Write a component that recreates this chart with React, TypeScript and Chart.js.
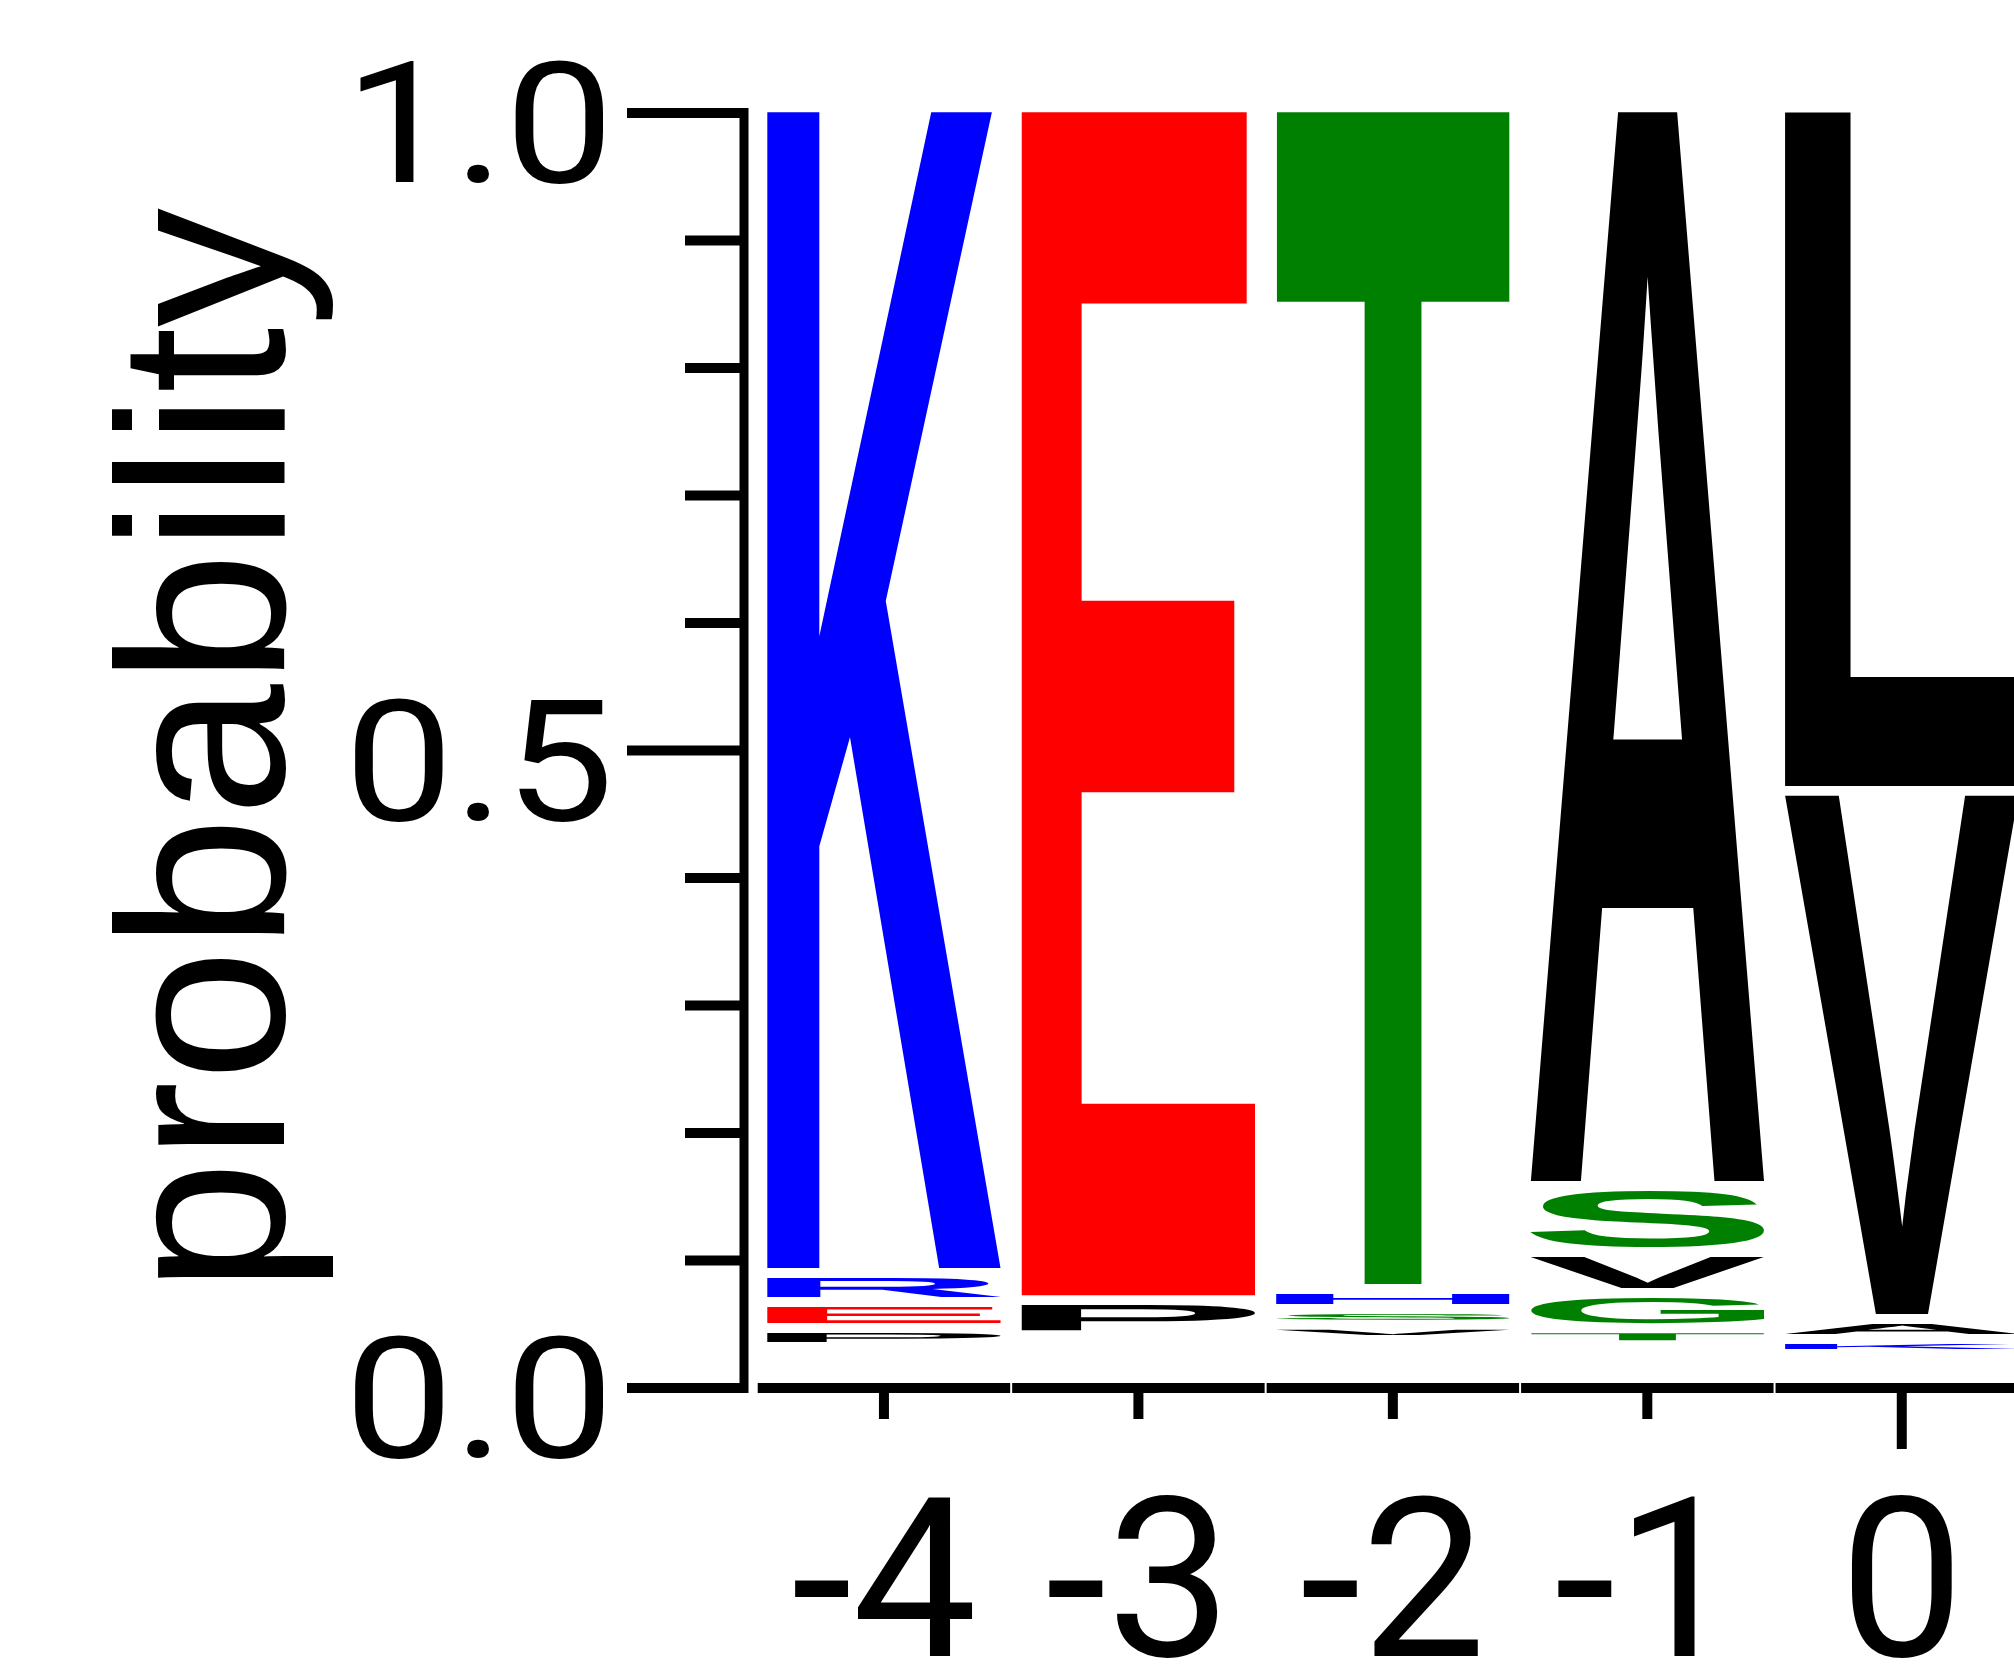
import React, { useEffect, useRef } from "react";
import { Chart, registerables } from "chart.js";

Chart.register(...registerables);

const FONT = "'Liberation Sans', Arial, Helvetica, sans-serif";
const TICK_FONT = "Roboto, 'Liberation Sans', Arial, sans-serif";

// Sequence positions relative to the site
const positions = [-4, -3, -2, -1, 0];

// Residues per position, listed bottom -> top, with their probabilities
const residuesM4 = ["Q", "S", "D", "P", "E", "R", "K"];
const probsM4 = [0.0093, 0.0095, 0.0095, 0.0149, 0.0204, 0.0227, 0.9137];

const residuesM3 = ["K", "A", "S", "D", "P", "E"];
const probsM3 = [0.0092, 0.0094, 0.0094, 0.0095, 0.0275, 0.935];

const residuesM2 = ["N", "A", "Q", "I", "V", "S", "H", "T"];
const probsM2 = [0.0083, 0.0084, 0.0085, 0.0085, 0.012, 0.0123, 0.0157, 0.9263];

const residuesM1 = ["C", "N", "E", "T", "G", "V", "S", "A"];
const probsM1 = [0.0098, 0.0099, 0.01, 0.0133, 0.0275, 0.0322, 0.0518, 0.8455];

const residues0 = ["S", "I", "T", "K", "A", "V", "L"];
const probs0 = [0.0075, 0.0076, 0.0076, 0.0118, 0.0157, 0.4141, 0.5357];

const columnResidues = [residuesM4, residuesM3, residuesM2, residuesM1, residues0];
const columnProbs = [probsM4, probsM3, probsM2, probsM1, probs0];

// Y axis ticks that carry a label
const yMajorTicks = [0, 0.5, 1.0];

// Chemistry colour scheme
const RESIDUE_COLOURS: Record<string, string> = {
  K: "#0000ff", R: "#0000ff", H: "#0000ff",
  D: "#ff0000", E: "#ff0000",
  S: "#008000", T: "#008000", G: "#008000", Y: "#008000", C: "#008000",
  N: "#800080", Q: "#800080",
  A: "#000000", V: "#000000", L: "#000000", I: "#000000", P: "#000000",
  F: "#000000", M: "#000000", W: "#000000",
};

const GLYPH_FONT = `bold 400px ${FONT}`;
const GLYPH_GAP = 10; // blank space under each letter, px
const MIN_GLYPH = 3; // letters thinner than this are not drawn, px

const X_LABEL_SIZE = 222;
const X_LABEL_BASELINE = 268; // below the x axis, px

const Y_LABEL_SIZE = 169;
const Y_LABEL_WIDEN = 1.15; // probability numbers are set wide
const Y_LABEL_GAP = 130; // from the vertical axis to the label's right edge, px
const Y_LABEL_DROP = 69; // baseline below the tick, px

const isMajorY = (v: number) => yMajorTicks.some((m) => Math.abs(m - v) < 1e-6);

// Exact ink box of a glyph, found by rendering it once off-screen
type Ink = { left: number; top: number; right: number; bottom: number };
const inkCache: Record<string, Ink> = {};
function inkBox(letter: string): Ink {
  if (inkCache[letter]) return inkCache[letter];
  const size = 800;
  const ox = 200;
  const oy = 600;
  const c = document.createElement("canvas");
  c.width = size;
  c.height = size;
  const g = c.getContext("2d", { willReadFrequently: true }) as CanvasRenderingContext2D;
  g.font = GLYPH_FONT;
  g.textAlign = "left";
  g.textBaseline = "alphabetic";
  g.fillStyle = "#000";
  g.fillText(letter, ox, oy);
  const px = g.getImageData(0, 0, size, size).data;
  let minX = size, minY = size, maxX = -1, maxY = -1;
  for (let yy = 0; yy < size; yy++) {
    for (let xx = 0; xx < size; xx++) {
      if (px[(yy * size + xx) * 4 + 3] > 100) {
        if (xx < minX) minX = xx;
        if (xx > maxX) maxX = xx;
        if (yy < minY) minY = yy;
        if (yy > maxY) maxY = yy;
      }
    }
  }
  const box = { left: minX - ox, right: maxX + 1 - ox, top: minY - oy, bottom: maxY + 1 - oy };
  inkCache[letter] = box;
  return box;
}

function drawGlyph(
  ctx: CanvasRenderingContext2D,
  letter: string,
  left: number,
  top: number,
  w: number,
  h: number,
  colour: string
) {
  const b = inkBox(letter);
  ctx.save();
  ctx.font = GLYPH_FONT;
  ctx.textAlign = "left";
  ctx.textBaseline = "alphabetic";
  ctx.translate(left, top);
  ctx.scale(w / (b.right - b.left), h / (b.bottom - b.top));
  ctx.fillStyle = colour;
  ctx.fillText(letter, -b.left, -b.top);
  ctx.restore();
}

// Stretches each letter over its stacked bar
const logoGlyphs = {
  id: "logoGlyphs",
  afterDatasetsDraw(chart: any) {
    const ctx = chart.ctx as CanvasRenderingContext2D;
    chart.data.datasets.forEach((ds: any, d: number) => {
      const meta = chart.getDatasetMeta(d);
      meta.data.forEach((el: any, i: number) => {
        const letter = ds.letters[i];
        if (!letter) return;
        const { x, y, base, width } = el.getProps(["x", "y", "base", "width"], true);
        const top = Math.min(y, base);
        const h = Math.abs(base - y) - GLYPH_GAP;
        if (h < MIN_GLYPH) return;
        drawGlyph(ctx, letter, x - width / 2, top, width, h, RESIDUE_COLOURS[letter] || "#000");
      });
    });
  },
};

// Axis lines, tick marks and tick labels
const logoAxes = {
  id: "logoAxes",
  afterDraw(chart: any) {
    const ctx = chart.ctx as CanvasRenderingContext2D;
    const xs = chart.scales.x;
    const ys = chart.scales.y;
    const area = chart.chartArea;
    const yTop = ys.getPixelForValue(1);
    const yBottom = ys.getPixelForValue(0);
    ctx.save();
    ctx.strokeStyle = "#000";
    ctx.fillStyle = "#000";
    ctx.lineCap = "butt";

    // vertical axis
    ctx.lineWidth = 9;
    ctx.beginPath();
    ctx.moveTo(area.left, yTop - 5);
    ctx.lineTo(area.left, yBottom + 5);
    ctx.stroke();

    // y ticks and labels
    ctx.lineWidth = 10;
    ctx.font = `${Y_LABEL_SIZE}px ${TICK_FONT}`;
    ctx.textAlign = "right";
    ctx.textBaseline = "alphabetic";
    ys.ticks.forEach((t: any) => {
      const p = ys.getPixelForValue(t.value);
      const major = isMajorY(t.value);
      const len = major ? 117 : 59;
      ctx.beginPath();
      ctx.moveTo(area.left, p);
      ctx.lineTo(area.left - len, p);
      ctx.stroke();
      if (major && t.label) {
        ctx.save();
        ctx.translate(area.left - Y_LABEL_GAP, p + Y_LABEL_DROP);
        ctx.scale(Y_LABEL_WIDEN, 1);
        ctx.fillText(t.label, 0, 0);
        ctx.restore();
      }
    });

    // x axis, one segment per column
    positions.forEach((pos) => {
      const a = xs.getPixelForValue(pos - 0.5) + 1;
      const b = xs.getPixelForValue(pos + 0.5) - 1;
      ctx.beginPath();
      ctx.moveTo(a, area.bottom);
      ctx.lineTo(b, area.bottom);
      ctx.stroke();
    });

    // x ticks and labels
    ctx.font = `${X_LABEL_SIZE}px ${TICK_FONT}`;
    ctx.textAlign = "center";
    ctx.textBaseline = "alphabetic";
    xs.ticks.forEach((t: any) => {
      const p = xs.getPixelForValue(t.value);
      const len = t.value % 5 === 0 ? 61 : 31;
      ctx.beginPath();
      ctx.moveTo(p, area.bottom);
      ctx.lineTo(p, area.bottom + len);
      ctx.stroke();
      ctx.fillText(t.label ?? String(t.value), p, area.bottom + X_LABEL_BASELINE);
    });
    ctx.restore();
  },
};

export default function App() {
  const canvasRef = useRef<HTMLCanvasElement | null>(null);

  useEffect(() => {
    const canvas = canvasRef.current;
    if (!canvas) return;

    const levels = Math.max(...columnResidues.map((r) => r.length));
    const datasets = Array.from({ length: levels }, (_, j) => ({
      label: `level ${j}`,
      letters: columnResidues.map((r) => r[j] || ""),
      data: positions.map((p, i) => ({ x: p, y: columnProbs[i][j] ?? 0 })),
      backgroundColor: "rgba(0,0,0,0)",
      borderWidth: 0,
      barPercentage: 0.915,
      categoryPercentage: 1,
    }));

    const chart = new Chart(canvas, {
      type: "bar",
      data: { datasets } as any,
      options: {
        responsive: false,
        animation: false,
        devicePixelRatio: 1,
        layout: { padding: { top: 113, left: 0, right: 0, bottom: 0 } },
        plugins: {
          legend: { display: false },
          tooltip: { enabled: false },
          title: { display: false },
        },
        scales: {
          x: {
            type: "linear",
            stacked: true,
            min: -4.55,
            max: 0.5,
            offset: false,
            afterBuildTicks: (s: any) => {
              s.ticks = positions.map((v) => ({ value: v }));
            },
            afterFit: (s: any) => {
              s.height = 283;
              s.paddingLeft = 0;
              s.paddingRight = 0;
            },
            grid: { display: false, drawTicks: false, offset: false },
            border: { display: false },
            ticks: {
              display: false,
              autoSkip: false,
              maxRotation: 0,
              callback: (v: any) => String(v),
            },
          },
          y: {
            type: "linear",
            stacked: true,
            min: 0,
            max: 1,
            afterFit: (s: any) => {
              s.width = 744;
              s.paddingTop = 0;
              s.paddingBottom = 0;
            },
            grid: { display: false, drawTicks: false },
            border: { display: false },
            ticks: {
              display: false,
              stepSize: 0.1,
              autoSkip: false,
              callback: (v: any) => (isMajorY(Number(v)) ? Number(v).toFixed(1) : ""),
            },
            title: {
              display: true,
              text: "probability",
              color: "#000",
              font: { family: FONT, size: 238, lineHeight: 1.2 },
              padding: { top: 76, bottom: 0 },
            },
          },
        },
      } as any,
      plugins: [logoAxes, logoGlyphs],
    });

    return () => chart.destroy();
  }, []);

  return (
    <div
      style={{
        position: "absolute",
        left: 0,
        top: 0,
        width: 2014,
        height: 1671,
        overflow: "hidden",
        background: "#fff",
      }}
    >
      <canvas ref={canvasRef} width={2029} height={1671} style={{ display: "block" }} />
    </div>
  );
}
